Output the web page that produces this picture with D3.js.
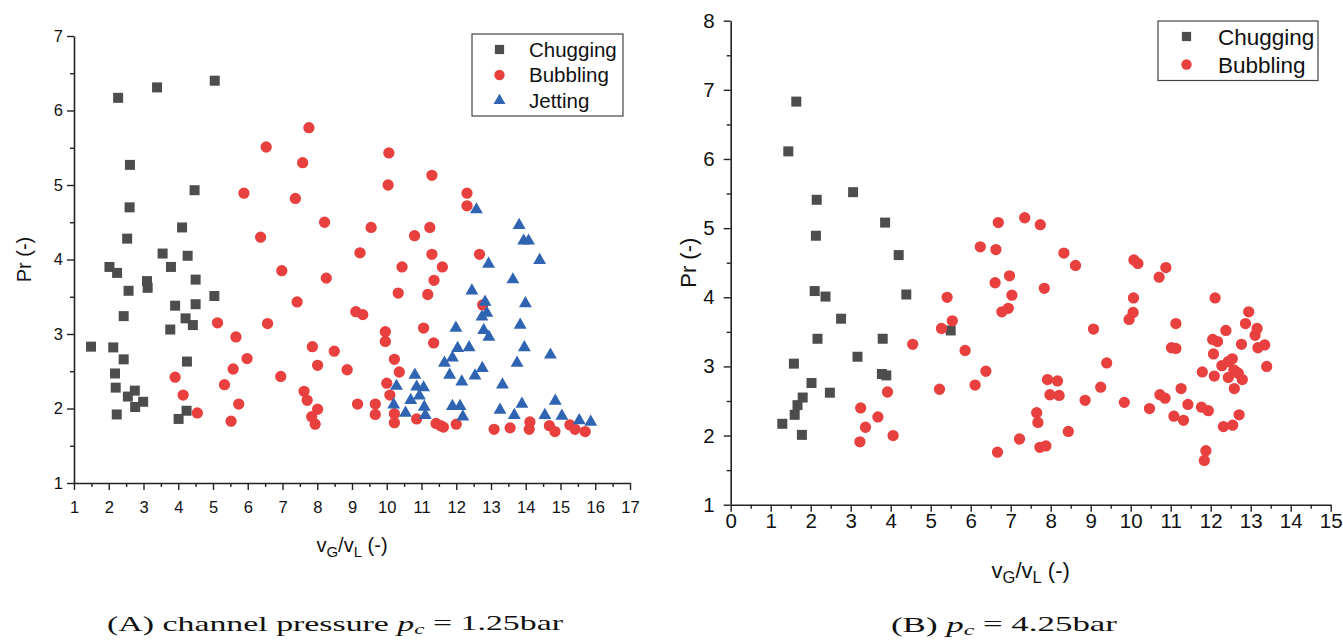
<!DOCTYPE html>
<html>
<head>
<meta charset="utf-8">
<script src="https://cdn.jsdelivr.net/npm/d3@7"></script>
<style>
  body { margin: 0; background: #fff; }
  svg text { font-family: "Liberation Sans", Arial, sans-serif; fill: #111; }
  .caption { font-family: "Liberation Serif", "DejaVu Serif", serif; }
</style>
</head>
<body>
<div id="cont"></div>
<script>
// panel A (pc = 1.25 bar): [vG/vL, Pr]
var chuggingA = [[2.27,6.17],[3.39,6.31],[5.05,6.40],[2.61,5.27],[4.47,4.93],[2.60,4.70],[4.11,4.43],[2.53,4.28],
  [3.55,4.08],[4.27,4.05],[2.02,3.90],[2.24,3.82],[3.79,3.90],[3.10,3.71],[3.12,3.62],[4.50,3.73],[2.57,3.58],
  [5.04,3.51],[3.91,3.38],[4.50,3.40],[2.43,3.24],[4.21,3.21],[4.42,3.12],[3.77,3.06],[1.49,2.83],[2.13,2.82],
  [2.43,2.66],[4.25,2.63],[2.18,2.47],[2.20,2.28],[2.75,2.24],[2.55,2.16],[2.99,2.09],[2.76,2.02],[2.23,1.92],
  [4.24,1.97],[4.01,1.86]];
var bubblingA = [[7.76,5.77],[6.53,5.51],[7.58,5.30],[5.89,4.89],[7.37,4.82],[8.21,4.50],[6.37,4.30],[9.23,4.09],
  [6.98,3.85],[8.26,3.75],[7.42,3.43],[9.11,3.30],[9.31,3.26],[5.13,3.15],[6.57,3.14],[5.66,2.96],[7.86,2.83],
  [8.49,2.77],[5.98,2.67],[8.01,2.58],[5.58,2.53],[8.86,2.52],[3.91,2.42],[6.95,2.43],[5.33,2.32],[7.62,2.23],
  [7.71,2.11],[4.14,2.18],[5.74,2.06],[9.16,2.06],[8.01,1.99],[4.55,1.94],[7.84,1.89],[5.52,1.83],[7.94,1.79],
  [10.06,5.43],[11.30,5.13],[10.04,5.00],[12.31,4.89],[12.31,4.72],[9.55,4.43],[11.24,4.43],[10.80,4.32],
  [11.30,4.07],[12.67,4.07],[10.44,3.90],[11.60,3.90],[11.36,3.72],[10.33,3.55],[11.18,3.53],[12.76,3.39],
  [9.96,3.03],[11.06,3.08],[9.96,2.90],[11.35,2.88],[10.22,2.66],[10.36,2.49],[10.00,2.34],[10.09,2.18],
  [9.67,2.06],[9.67,1.92],[10.22,1.93],[10.22,1.81],[10.86,1.86],[11.42,1.80],[11.55,1.77],[11.63,1.75],
  [12.00,1.79],[13.09,1.72],[13.55,1.74],[14.12,1.82],[14.10,1.72],[14.68,1.77],[14.84,1.69],[15.27,1.78],
  [15.42,1.72],[15.71,1.69]];
var jettingA = [[12.58,4.67],[13.81,4.46],[13.94,4.25],[14.08,4.25],[14.40,3.99],[12.93,3.94],[13.63,3.73],
  [12.45,3.58],[13.99,3.41],[12.83,3.43],[12.88,3.28],[12.74,3.23],[13.84,3.12],[11.99,3.08],[12.79,3.05],
  [12.94,2.96],[13.96,2.82],[12.37,2.82],[12.04,2.81],[11.89,2.68],[14.71,2.72],[11.66,2.61],[13.75,2.61],
  [12.75,2.54],[12.54,2.44],[11.81,2.45],[10.81,2.45],[12.16,2.36],[13.33,2.32],[10.28,2.30],[10.86,2.29],
  [11.06,2.28],[10.94,2.17],[10.69,2.11],[14.85,2.10],[10.20,2.05],[11.08,2.02],[11.89,2.03],[12.11,2.03],
  [13.89,2.06],[13.26,1.98],[10.54,1.94],[11.11,1.91],[12.19,1.89],[13.67,1.91],[14.55,1.91],[15.04,1.90],
  [15.54,1.84],[15.87,1.82]];

// panel B (pc = 4.25 bar)
var chuggingB = [[1.64,6.83],[1.44,6.11],[2.15,5.41],[3.06,5.52],[2.13,4.89],[3.86,5.08],[4.20,4.61],[2.10,4.09],
  [2.37,4.01],[4.39,4.04],[2.76,3.69],[2.17,3.40],[3.80,3.40],[5.50,3.52],[1.58,3.04],[3.17,3.14],[3.78,2.89],
  [3.89,2.87],[2.02,2.76],[2.48,2.62],[1.80,2.55],[1.67,2.44],[1.60,2.30],[1.29,2.17],[1.78,2.01]];
var bubblingB = [[6.97,4.31],[6.61,4.21],[7.03,4.03],[5.41,4.00],[6.94,3.84],[6.78,3.79],[5.27,3.55],[5.54,3.66],
  [4.55,3.32],[5.86,3.23],[6.38,2.93],[6.11,2.73],[5.22,2.67],[3.92,2.63],[3.25,2.40],[3.68,2.27],[3.37,2.12],
  [4.06,2.00],[3.23,1.91],[6.67,1.76],[7.22,1.95],[6.69,5.08],[6.24,4.73],[6.63,4.69],[7.35,5.15],[7.74,5.05],
  [8.33,4.64],[8.62,4.46],[10.08,4.54],[10.18,4.49],[10.88,4.43],[10.71,4.29],[7.84,4.13],[10.07,3.99],
  [12.11,3.99],[10.06,3.78],[9.96,3.68],[9.07,3.54],[11.13,3.62],[12.95,3.79],[12.87,3.62],[13.16,3.55],
  [13.11,3.45],[12.38,3.52],[12.05,3.39],[12.17,3.36],[12.77,3.32],[13.35,3.31],[13.18,3.27],[11.02,3.27],
  [11.13,3.26],[12.07,3.18],[13.40,3.00],[12.54,3.11],[12.44,3.07],[12.28,3.01],[12.58,2.95],[12.69,2.90],
  [12.64,2.92],[11.79,2.92],[12.09,2.86],[12.44,2.84],[12.79,2.81],[12.59,2.68],[9.40,3.05],[9.25,2.70],
  [7.92,2.81],[8.17,2.79],[7.98,2.59],[8.21,2.58],[8.86,2.51],[9.84,2.48],[10.73,2.59],[10.86,2.54],
  [11.26,2.68],[10.47,2.39],[11.43,2.45],[11.08,2.28],[11.32,2.22],[11.77,2.41],[11.94,2.36],[12.71,2.30],
  [12.32,2.13],[12.55,2.15],[7.65,2.33],[7.68,2.19],[8.44,2.06],[7.73,1.83],[7.88,1.85],[11.88,1.78],[11.84,1.64]];

var xTicksA = d3.range(1, 18), yTicksA = d3.range(1, 8);
var xTicksB = d3.range(0, 16), yTicksB = d3.range(1, 9);
var seriesNamesA = ["Chugging", "Bubbling", "Jetting"];
var seriesNamesB = ["Chugging", "Bubbling"];
var captionA = ["(A)  channel pressure ", " = 1.25bar"];
var captionB = ["(B)  ", " = 4.25bar"];

var colors = { Chugging: "#4d4d4d", Bubbling: "#e8403f", Jetting: "#2f64b3" };
var shapes = { Chugging: d3.symbolSquare, Bubbling: d3.symbolCircle, Jetting: d3.symbolTriangle };
var sizes = { Chugging: 100, Bubbling: 100, Jetting: 72 };

var svg = d3.select("#cont").append("svg").attr("width", 1343).attr("height", 641);

function drawPanel(o) {
  var x = d3.scaleLinear().domain(o.xdom).range(o.xr);
  var y = d3.scaleLinear().domain(o.ydom).range(o.yr);
  var g = svg.append("g");

  // minor ticks
  var minorX = d3.range(o.xdom[0] + 0.5, o.xdom[1], 1);
  var minorY = d3.range(o.ydom[0] + 0.5, o.ydom[1], 1);
  g.append("g").attr("transform", "translate(0," + o.yr[0] + ")")
    .call(d3.axisBottom(x).tickValues(minorX).tickSize(4).tickFormat(""))
    .call(a => a.select(".domain").remove());
  g.append("g").attr("transform", "translate(" + o.xr[0] + ",0)")
    .call(d3.axisLeft(y).tickValues(minorY).tickSize(4).tickFormat(""))
    .call(a => a.select(".domain").remove());

  var xa = g.append("g").attr("transform", "translate(0," + o.yr[0] + ")")
    .call(d3.axisBottom(x).tickValues(o.xticks).tickSize(7).tickSizeOuter(0).tickPadding(o.xpad).tickFormat(d3.format("d")));
  var ya = g.append("g").attr("transform", "translate(" + o.xr[0] + ",0)")
    .call(d3.axisLeft(y).tickValues(o.yticks).tickSize(7).tickSizeOuter(0).tickPadding(o.ypad).tickFormat(d3.format("d")));
  g.selectAll(".tick line").attr("stroke", "#222").attr("stroke-width", 1.4);
  [xa, ya].forEach(function(a) {
    a.select(".domain").attr("stroke", "#222").attr("stroke-width", 1.6);
    a.selectAll("text").style("font-size", o.tickFont + "px").style("font-family", "Liberation Sans, Arial").attr("fill", "#111");
  });

  // axis titles
  var xt = g.append("text").attr("x", (o.xr[0] + o.xr[1]) / 2).attr("y", o.xlabY)
    .attr("text-anchor", "middle").style("font-size", o.labFont + "px");
  xt.append("tspan").text("v");
  xt.append("tspan").text("G").attr("dy", "0.3em").style("font-size", (o.labFont * 0.75) + "px");
  xt.append("tspan").text("/v").attr("dy", "-0.22em");
  xt.append("tspan").text("L").attr("dy", "0.3em").style("font-size", (o.labFont * 0.75) + "px");
  xt.append("tspan").text(" (-)").attr("dy", "-0.22em");

  g.append("text").attr("transform", "translate(" + o.ylabX + "," + ((o.yr[0] + o.yr[1]) / 2) + ") rotate(-90)")
    .attr("text-anchor", "middle").style("font-size", o.labFont + "px").text("Pr (-)");

  // points
  o.series.forEach(function(s) {
    g.append("g").selectAll("path").data(s.data).enter().append("path")
      .attr("transform", d => "translate(" + x(d[0]) + "," + y(d[1]) + ")")
      .attr("d", d3.symbol().type(shapes[s.name]).size(sizes[s.name]))
      .attr("fill", colors[s.name]);
  });

  // legend
  var L = o.legend;
  g.append("rect").attr("x", L.x).attr("y", L.y).attr("width", L.w).attr("height", L.h)
    .attr("fill", "#fff").attr("stroke", "#444").attr("stroke-width", 1.2);
  o.series.forEach(function(s, i) {
    var cy = L.y + L.first + i * L.step;
    g.append("path").attr("transform", "translate(" + (L.x + L.mx) + "," + cy + ")")
      .attr("d", d3.symbol().type(shapes[s.name]).size(sizes[s.name] * 0.85)).attr("fill", colors[s.name]);
    g.append("text").attr("x", L.x + L.tx).attr("y", cy + L.font * 0.36)
      .style("font-size", L.font + "px").text(s.name);
  });
}

drawPanel({
  xdom: [1, 17], ydom: [1, 7], xr: [74, 630], yr: [483, 36],
  xticks: xTicksA, yticks: yTicksA, xpad: 11, ypad: 4, tickFont: 16.5, labFont: 20,
  xlabY: 552, ylabX: 31,
  series: [{ name: seriesNamesA[0], data: chuggingA }, { name: seriesNamesA[1], data: bubblingA }, { name: seriesNamesA[2], data: jettingA }],
  legend: { x: 472, y: 34, w: 151, h: 82, first: 15.5, step: 25.5, mx: 27.5, tx: 57, font: 20.5 }
});

drawPanel({
  xdom: [0, 15], ydom: [1, 8], xr: [730.7, 1330.7], yr: [504.7, 20.7],
  xticks: xTicksB, yticks: yTicksB, xpad: 2, ypad: 9, tickFont: 20.5, labFont: 22,
  xlabY: 578, ylabX: 696,
  series: [{ name: seriesNamesB[0], data: chuggingB }, { name: seriesNamesB[1], data: bubblingB }],
  legend: { x: 1158, y: 21, w: 160, h: 59.5, first: 15.5, step: 28, mx: 28.5, tx: 60, font: 22.5 }
});

// captions
function caption(xs, w, y, parts) {
  var t = svg.append("text").attr("class", "caption").attr("x", xs).attr("y", y)
    .attr("textLength", w).attr("lengthAdjust", "spacingAndGlyphs").style("font-size", "22px");
  t.append("tspan").text(parts[0]);
  t.append("tspan").text("p").style("font-style", "italic");
  t.append("tspan").text("c").style("font-style", "italic").style("font-size", "15px").attr("dy", "0.2em");
  t.append("tspan").text(parts[1]).attr("dy", "-0.2em");
}
caption(107, 456, 631, captionA);
caption(891, 226, 632, captionB);
</script>
</body>
</html>
